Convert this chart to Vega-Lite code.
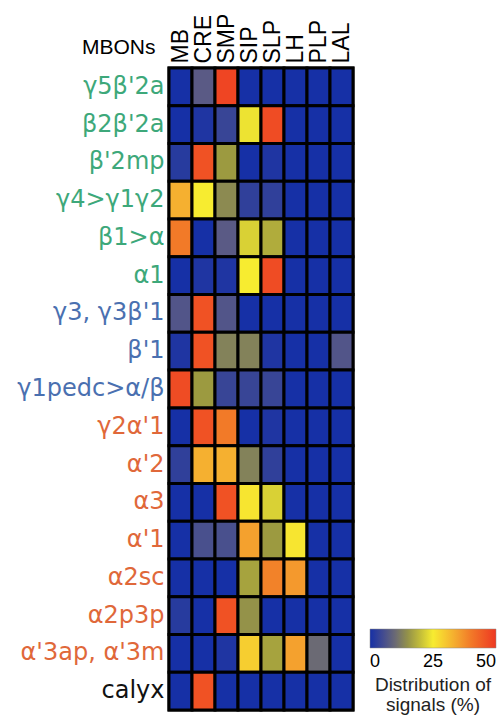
{
  "$schema": "https://vega.github.io/schema/vega-lite/v6.json",
  "autosize": "none",
  "width": 184,
  "height": 642,
  "padding": {"left": 169, "top": 68, "right": 151, "bottom": 8},
  "background": "white",
  "config": {"view": {"stroke": "black", "strokeWidth": 3}},
  "data": {"values": [
    {"mbon": "γ5β'2a", "region": "MB", "signal": 0}, {"mbon": "γ5β'2a", "region": "CRE", "signal": 8}, {"mbon": "γ5β'2a", "region": "SMP", "signal": 48}, {"mbon": "γ5β'2a", "region": "SIP", "signal": 0}, {"mbon": "γ5β'2a", "region": "SLP", "signal": 0}, {"mbon": "γ5β'2a", "region": "LH", "signal": 0}, {"mbon": "γ5β'2a", "region": "PLP", "signal": 0}, {"mbon": "γ5β'2a", "region": "LAL", "signal": 0},
    {"mbon": "β2β'2a", "region": "MB", "signal": 0}, {"mbon": "β2β'2a", "region": "CRE", "signal": 1}, {"mbon": "β2β'2a", "region": "SMP", "signal": 4}, {"mbon": "β2β'2a", "region": "SIP", "signal": 24}, {"mbon": "β2β'2a", "region": "SLP", "signal": 47}, {"mbon": "β2β'2a", "region": "LH", "signal": 0}, {"mbon": "β2β'2a", "region": "PLP", "signal": 0}, {"mbon": "β2β'2a", "region": "LAL", "signal": 0},
    {"mbon": "β'2mp", "region": "MB", "signal": 2}, {"mbon": "β'2mp", "region": "CRE", "signal": 46}, {"mbon": "β'2mp", "region": "SMP", "signal": 16}, {"mbon": "β'2mp", "region": "SIP", "signal": 0}, {"mbon": "β'2mp", "region": "SLP", "signal": 1}, {"mbon": "β'2mp", "region": "LH", "signal": 0}, {"mbon": "β'2mp", "region": "PLP", "signal": 0}, {"mbon": "β'2mp", "region": "LAL", "signal": 0},
    {"mbon": "γ4>γ1γ2", "region": "MB", "signal": 33}, {"mbon": "γ4>γ1γ2", "region": "CRE", "signal": 25}, {"mbon": "γ4>γ1γ2", "region": "SMP", "signal": 14}, {"mbon": "γ4>γ1γ2", "region": "SIP", "signal": 3}, {"mbon": "γ4>γ1γ2", "region": "SLP", "signal": 3}, {"mbon": "γ4>γ1γ2", "region": "LH", "signal": 0}, {"mbon": "γ4>γ1γ2", "region": "PLP", "signal": 0}, {"mbon": "γ4>γ1γ2", "region": "LAL", "signal": 0},
    {"mbon": "β1>α", "region": "MB", "signal": 40}, {"mbon": "β1>α", "region": "CRE", "signal": 0}, {"mbon": "β1>α", "region": "SMP", "signal": 8}, {"mbon": "β1>α", "region": "SIP", "signal": 22}, {"mbon": "β1>α", "region": "SLP", "signal": 18}, {"mbon": "β1>α", "region": "LH", "signal": 0}, {"mbon": "β1>α", "region": "PLP", "signal": 0}, {"mbon": "β1>α", "region": "LAL", "signal": 0},
    {"mbon": "α1", "region": "MB", "signal": 0}, {"mbon": "α1", "region": "CRE", "signal": 1}, {"mbon": "α1", "region": "SMP", "signal": 1}, {"mbon": "α1", "region": "SIP", "signal": 25}, {"mbon": "α1", "region": "SLP", "signal": 47}, {"mbon": "α1", "region": "LH", "signal": 0}, {"mbon": "α1", "region": "PLP", "signal": 0}, {"mbon": "α1", "region": "LAL", "signal": 0},
    {"mbon": "γ3, γ3β'1", "region": "MB", "signal": 7}, {"mbon": "γ3, γ3β'1", "region": "CRE", "signal": 46}, {"mbon": "γ3, γ3β'1", "region": "SMP", "signal": 7}, {"mbon": "γ3, γ3β'1", "region": "SIP", "signal": 0}, {"mbon": "γ3, γ3β'1", "region": "SLP", "signal": 0}, {"mbon": "γ3, γ3β'1", "region": "LH", "signal": 0}, {"mbon": "γ3, γ3β'1", "region": "PLP", "signal": 0}, {"mbon": "γ3, γ3β'1", "region": "LAL", "signal": 0},
    {"mbon": "β'1", "region": "MB", "signal": 1}, {"mbon": "β'1", "region": "CRE", "signal": 46}, {"mbon": "β'1", "region": "SMP", "signal": 13}, {"mbon": "β'1", "region": "SIP", "signal": 13}, {"mbon": "β'1", "region": "SLP", "signal": 1}, {"mbon": "β'1", "region": "LH", "signal": 0}, {"mbon": "β'1", "region": "PLP", "signal": 0}, {"mbon": "β'1", "region": "LAL", "signal": 7},
    {"mbon": "γ1pedc>α/β", "region": "MB", "signal": 47}, {"mbon": "γ1pedc>α/β", "region": "CRE", "signal": 16}, {"mbon": "γ1pedc>α/β", "region": "SMP", "signal": 4}, {"mbon": "γ1pedc>α/β", "region": "SIP", "signal": 4}, {"mbon": "γ1pedc>α/β", "region": "SLP", "signal": 4}, {"mbon": "γ1pedc>α/β", "region": "LH", "signal": 0}, {"mbon": "γ1pedc>α/β", "region": "PLP", "signal": 0}, {"mbon": "γ1pedc>α/β", "region": "LAL", "signal": 0},
    {"mbon": "γ2α'1", "region": "MB", "signal": 0}, {"mbon": "γ2α'1", "region": "CRE", "signal": 46}, {"mbon": "γ2α'1", "region": "SMP", "signal": 40}, {"mbon": "γ2α'1", "region": "SIP", "signal": 0}, {"mbon": "γ2α'1", "region": "SLP", "signal": 1}, {"mbon": "γ2α'1", "region": "LH", "signal": 0}, {"mbon": "γ2α'1", "region": "PLP", "signal": 0}, {"mbon": "γ2α'1", "region": "LAL", "signal": 0},
    {"mbon": "α'2", "region": "MB", "signal": 3}, {"mbon": "α'2", "region": "CRE", "signal": 33}, {"mbon": "α'2", "region": "SMP", "signal": 33}, {"mbon": "α'2", "region": "SIP", "signal": 13}, {"mbon": "α'2", "region": "SLP", "signal": 3}, {"mbon": "α'2", "region": "LH", "signal": 0}, {"mbon": "α'2", "region": "PLP", "signal": 0}, {"mbon": "α'2", "region": "LAL", "signal": 0},
    {"mbon": "α3", "region": "MB", "signal": 0}, {"mbon": "α3", "region": "CRE", "signal": 0}, {"mbon": "α3", "region": "SMP", "signal": 46}, {"mbon": "α3", "region": "SIP", "signal": 26}, {"mbon": "α3", "region": "SLP", "signal": 22}, {"mbon": "α3", "region": "LH", "signal": 0}, {"mbon": "α3", "region": "PLP", "signal": 0}, {"mbon": "α3", "region": "LAL", "signal": 0},
    {"mbon": "α'1", "region": "MB", "signal": 0}, {"mbon": "α'1", "region": "CRE", "signal": 6}, {"mbon": "α'1", "region": "SMP", "signal": 6}, {"mbon": "α'1", "region": "SIP", "signal": 35}, {"mbon": "α'1", "region": "SLP", "signal": 16}, {"mbon": "α'1", "region": "LH", "signal": 26}, {"mbon": "α'1", "region": "PLP", "signal": 0}, {"mbon": "α'1", "region": "LAL", "signal": 0},
    {"mbon": "α2sc", "region": "MB", "signal": 0}, {"mbon": "α2sc", "region": "CRE", "signal": 0}, {"mbon": "α2sc", "region": "SMP", "signal": 0}, {"mbon": "α2sc", "region": "SIP", "signal": 17}, {"mbon": "α2sc", "region": "SLP", "signal": 39}, {"mbon": "α2sc", "region": "LH", "signal": 36}, {"mbon": "α2sc", "region": "PLP", "signal": 0}, {"mbon": "α2sc", "region": "LAL", "signal": 0},
    {"mbon": "α2p3p", "region": "MB", "signal": 2}, {"mbon": "α2p3p", "region": "CRE", "signal": 0}, {"mbon": "α2p3p", "region": "SMP", "signal": 46}, {"mbon": "α2p3p", "region": "SIP", "signal": 15}, {"mbon": "α2p3p", "region": "SLP", "signal": 0}, {"mbon": "α2p3p", "region": "LH", "signal": 0}, {"mbon": "α2p3p", "region": "PLP", "signal": 0}, {"mbon": "α2p3p", "region": "LAL", "signal": 0},
    {"mbon": "α'3ap, α'3m", "region": "MB", "signal": 0}, {"mbon": "α'3ap, α'3m", "region": "CRE", "signal": 0}, {"mbon": "α'3ap, α'3m", "region": "SMP", "signal": 1}, {"mbon": "α'3ap, α'3m", "region": "SIP", "signal": 29}, {"mbon": "α'3ap, α'3m", "region": "SLP", "signal": 17}, {"mbon": "α'3ap, α'3m", "region": "LH", "signal": 35}, {"mbon": "α'3ap, α'3m", "region": "PLP", "signal": 10}, {"mbon": "α'3ap, α'3m", "region": "LAL", "signal": 0},
    {"mbon": "calyx", "region": "MB", "signal": 0}, {"mbon": "calyx", "region": "CRE", "signal": 46}, {"mbon": "calyx", "region": "SMP", "signal": 0}, {"mbon": "calyx", "region": "SIP", "signal": 0}, {"mbon": "calyx", "region": "SLP", "signal": 0}, {"mbon": "calyx", "region": "LH", "signal": 0}, {"mbon": "calyx", "region": "PLP", "signal": 0}, {"mbon": "calyx", "region": "LAL", "signal": 0}
  ]},
  "mark": {"type": "rect", "stroke": "black", "strokeWidth": 3},
  "encoding": {
    "x": {
      "field": "region", "type": "nominal", "sort": null,
      "axis": {
        "orient": "top", "title": null, "domain": false, "ticks": false,
        "labelAngle": -90, "labelAlign": "left", "labelBaseline": "middle",
        "labelPadding": 5, "labelFont": "Liberation Sans", "labelFontSize": 23, "labelColor": "black"
      }
    },
    "y": {
      "field": "mbon", "type": "nominal", "sort": null,
      "axis": {
        "title": "MBONs", "titleAngle": 0, "titleX": -14, "titleY": -21,
        "titleAlign": "right", "titleBaseline": "middle",
        "titleFont": "Liberation Sans", "titleFontSize": 21, "titleFontWeight": "normal", "titleColor": "black",
        "domain": false, "ticks": false, "labelPadding": 5,
        "labelFont": "DejaVu Sans", "labelFontSize": 24, "labelLimit": 300,
        "labelColor": {"expr": "indexof([\"γ5β'2a\", \"β2β'2a\", \"β'2mp\", \"γ4>γ1γ2\", \"β1>α\", \"α1\"], datum.value) >= 0 ? '#3da87a' : indexof([\"γ3, γ3β'1\", \"β'1\", \"γ1pedc>α/β\"], datum.value) >= 0 ? '#4a70b0' : datum.value == 'calyx' ? '#111111' : '#e0683a'"}
      }
    },
    "color": {
      "field": "signal", "type": "quantitative",
      "scale": {
        "domain": [0, 8, 16, 25, 33, 40, 50],
        "range": ["#1630a6", "#5a5a85", "#9c9a40", "#f7ec30", "#f5b030", "#f27a28", "#ee3822"],
        "interpolate": "rgb"
      },
      "legend": {
        "title": ["Distribution of", "signals (%)"],
        "orient": "none", "legendX": 201, "legendY": 561,
        "direction": "horizontal", "gradientLength": 126, "gradientThickness": 19,
        "values": [0, 25, 50],
        "titleOrient": "bottom", "titleAnchor": "middle", "titleAlign": "center",
        "titleFont": "Liberation Sans", "titleFontSize": 19, "titleFontWeight": "normal", "titleColor": "#222",
        "titleLineHeight": 20, "titlePadding": 5,
        "labelFont": "Liberation Sans", "labelFontSize": 18, "labelColor": "black", "labelOffset": 5,
        "gradientStrokeColor": "#888", "gradientStrokeWidth": 0.5
      }
    }
  }
}
